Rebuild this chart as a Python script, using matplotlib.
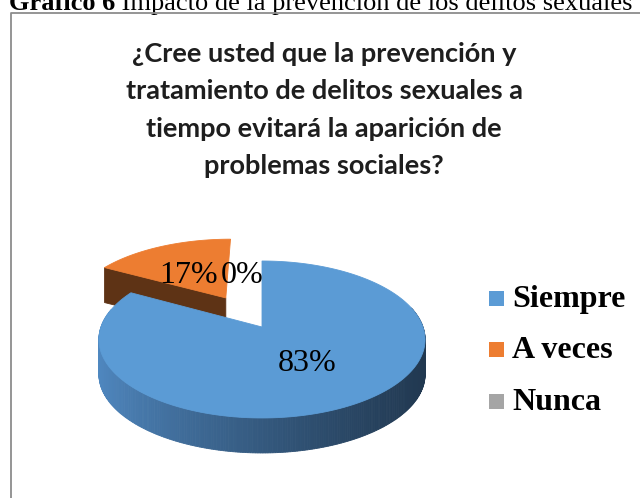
import numpy as np
import matplotlib
matplotlib.use('Agg')
import matplotlib.pyplot as plt
from matplotlib.patches import Polygon, Rectangle
from matplotlib.colors import to_rgb

# datos
categorias = ['Siempre', 'A veces', 'Nunca']
porcentajes = [83, 17, 0]
colores = ['#5B9BD5', '#ED7D31', '#A5A5A5']
titulo = ('¿Cree usted que la prevención y\ntratamiento de delitos sexuales a\n'
          'tiempo evitará la aparición de\nproblemas sociales?')

W, H = 640, 498
fig = plt.figure(figsize=(6.4, 4.98), dpi=100)
ax = fig.add_axes([0, 0, 1, 1])
ax.set_xlim(0, W)
ax.set_ylim(H, 0)
ax.axis('off')

# geometria del pastel 3D (en pixeles)
cx, cy = 262, 327
a, b = 161, 76.5
k = 0.159          # perspectiva
prof = 35          # grosor
explode = [0, 0.47, 0]


def proj(u, v, z=0.0):
    s = 1.0 / (1.0 + k * v)
    return cx + a * u * s, cy - b * v * s + z


def mezcla(c1, c2, t):
    c1, c2 = np.array(to_rgb(c1)), np.array(to_rgb(c2))
    return tuple(c1 * (1 - t) + c2 * t)


# angulos de cada porcion (sentido horario desde las 12)
ang = 90.0
cortes = []
for p in porcentajes:
    ext = 360.0 * p / 100.0
    cortes.append((ang - ext, ang))
    ang -= ext

# orden de dibujo: primero la porcion desplazada (atras)
orden = [1, 0]
z = 1
for i in orden:
    t1, t2 = cortes[i]
    mid = np.radians((t1 + t2) / 2)
    eu, ev = explode[i] * np.cos(mid), explode[i] * np.sin(mid)
    th = np.radians(np.linspace(t1, t2, 400))
    us, vs = eu + np.cos(th), ev + np.sin(th)

    # lado curvo
    for j in range(len(th) - 1):
        if np.sin(th[j]) > 0.25:
            continue
        p1 = proj(us[j], vs[j]); p2 = proj(us[j + 1], vs[j + 1])
        p3 = proj(us[j + 1], vs[j + 1], prof); p4 = proj(us[j], vs[j], prof)
        if i == 0:
            t = (1 - np.cos(th[j])) / 2
            col = mezcla('#213850', '#5089C2', t ** 1.3)
        else:
            col = '#5E3315'
        ax.add_patch(Polygon([p1, p2, p3, p4], closed=True, fc=col, ec=col,
                             lw=0.6, zorder=z))
    z += 1

    # caras radiales visibles
    for tt, sgn in ((t1, -1), (t2, 1)):
        n = np.radians(tt + sgn * 90)
        if np.sin(n) < -0.01:
            r = np.radians(tt)
            v0 = proj(eu, ev); c0 = proj(eu + np.cos(r), ev + np.sin(r))
            cara = [v0, c0, proj(eu + np.cos(r), ev + np.sin(r), prof), proj(eu, ev, prof)]
            col = '#5E3315' if i == 1 else '#2F5478'
            ax.add_patch(Polygon(cara, closed=True, fc=col, ec=col, lw=0.6, zorder=z))
    z += 1

    # cara superior
    sup = [proj(eu, ev)] + [proj(u, v) for u, v in zip(us, vs)]
    ax.add_patch(Polygon(sup, closed=True, fc=colores[i], ec=colores[i], lw=0.6, zorder=z))
    z += 1

# etiquetas de porcentaje
radio_et = [0.51, 0.40, 0.76]
desp_x = [0, -10, -20]
for i, p in enumerate(porcentajes):
    t1, t2 = cortes[i]
    mid = np.radians((t1 + t2) / 2)
    eu, ev = explode[i] * np.cos(mid), explode[i] * np.sin(mid)
    x, y = proj(eu + radio_et[i] * np.cos(mid), ev + radio_et[i] * np.sin(mid))
    ax.text(x + desp_x[i], y, f'{p:.0f}%', fontsize=23, family='Liberation Serif',
            ha='center', va='center', zorder=20)

# leyenda
for i, (c, col) in enumerate(zip(categorias, colores)):
    y = 298 + 51.5 * i
    ax.add_patch(Rectangle((489, y - 7.5), 15, 15, fc=col, ec='none', zorder=20))
    ax.text(512, y + 1, c, fontsize=23, fontweight='bold', family='Liberation Serif',
            ha='left', va='center', zorder=20)

# titulo
ax.text(324, 110, titulo, fontsize=19.5, fontweight='bold', family='Lato',
        ha='center', va='center', multialignment='center', linespacing=1.68, color='#1E1E1E')

# marco del grafico
ax.plot([11, 11, W + 5], [H + 5, 13, 13], color='#8C8C8C', lw=1.3, zorder=30,
        clip_on=False)

# leyenda del documento (cortada arriba)
t_b = ax.text(9, 10, 'Gráfico 6', fontsize=19, fontweight='bold', family='Liberation Serif',
              ha='left', va='baseline')
fig.canvas.draw()
bb = t_b.get_window_extent().transformed(ax.transData.inverted())
ax.text(bb.x1, 10, ' Impacto de la prevención de los delitos sexuales', fontsize=19,
        family='Liberation Serif', ha='left', va='baseline')

fig.savefig('out.png', dpi=100)
